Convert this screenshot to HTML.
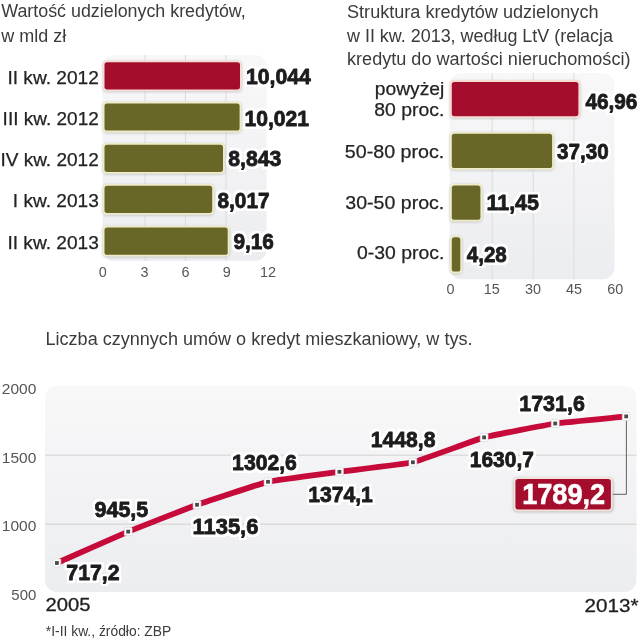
<!DOCTYPE html>
<html lang="pl">
<head>
<meta charset="utf-8">
<title>Kredyty mieszkaniowe</title>
<style>
html,body{margin:0;padding:0;background:#fff;}
body{width:639px;height:640px;overflow:hidden;font-family:"Liberation Sans",sans-serif;}
svg{display:block;will-change:transform;}
text{font-family:"Liberation Sans",sans-serif;}
.t{fill:#3b3b3b;}
.lab{fill:#232323;stroke:#232323;stroke-width:0.25px;}
.ax{fill:#555;}
.lab2{fill:#1f1f1f;stroke:#1f1f1f;stroke-width:0.3px;}
.v{font-weight:bold;fill:#1c1c1e;stroke:#1c1c1e;stroke-width:0.85px;stroke-linejoin:round;}
</style>
</head>
<body>
<svg width="639" height="640" viewBox="0 0 639 640">
<defs>
<linearGradient id="bg" x1="0" y1="0" x2="0" y2="1"><stop offset="0" stop-color="#f8f8f9"/><stop offset="1" stop-color="#ecedf0"/></linearGradient>
<filter id="halo" color-interpolation-filters="sRGB" x="-8%" y="-25%" width="116%" height="150%"><feMorphology in="SourceAlpha" operator="dilate" radius="1.5" result="d"/><feGaussianBlur in="d" stdDeviation="0.45" result="b"/><feComponentTransfer in="b" result="a"><feFuncA type="linear" slope="3" intercept="0"/></feComponentTransfer><feFlood flood-color="#fff"/><feComposite in2="a" operator="in" result="w"/><feMerge><feMergeNode in="w"/><feMergeNode in="SourceGraphic"/></feMerge></filter>
<filter id="sh" x="-10%" y="-20%" width="120%" height="140%"><feGaussianBlur stdDeviation="1.1"/></filter>
</defs>
<rect width="639" height="640" fill="#fff"/>

<!-- left bar chart -->
<text x="1.2" y="17.1" font-size="17.5" class="t" textLength="244.5" lengthAdjust="spacingAndGlyphs">Wartość udzielonych kredytów,</text>
<text x="1.2" y="41.5" font-size="17.5" class="t" textLength="65" lengthAdjust="spacingAndGlyphs">w mld zł</text>
<rect x="102.6" y="55" width="164" height="205.8" rx="11" fill="url(#bg)"/>
<rect x="144.5" y="55" width="1" height="205.8" fill="#dcdcdc"/>
<rect x="185.0" y="55" width="1" height="205.8" fill="#dcdcdc"/>
<rect x="225.5" y="55" width="1" height="205.8" fill="#dcdcdc"/>
<rect x="102.4" y="60.8" width="139.7" height="31.4" rx="4.4" fill="#9a9a9a" opacity="0.45" filter="url(#sh)"/>
<rect x="102.7" y="60.4" width="139.1" height="30.8" rx="4" fill="#f7ddd6"/>
<rect x="104.5" y="62.2" width="135.5" height="27.2" rx="2.6" fill="#a40e2c"/>
<text x="98.8" y="83.6" font-size="18.6" class="lab" textLength="91.4" lengthAdjust="spacingAndGlyphs" text-anchor="end">II kw. 2012</text>
<rect x="102.4" y="102.0" width="139.3" height="31.4" rx="4.4" fill="#9a9a9a" opacity="0.45" filter="url(#sh)"/>
<rect x="102.7" y="101.6" width="138.7" height="30.8" rx="4" fill="#efecc9"/>
<rect x="104.5" y="103.4" width="135.1" height="27.2" rx="2.6" fill="#686728"/>
<text x="98.8" y="124.8" font-size="18.6" class="lab" textLength="96.2" lengthAdjust="spacingAndGlyphs" text-anchor="end">III kw. 2012</text>
<rect x="102.4" y="143.3" width="122.7" height="31.4" rx="4.4" fill="#9a9a9a" opacity="0.45" filter="url(#sh)"/>
<rect x="102.7" y="142.9" width="122.1" height="30.8" rx="4" fill="#efecc9"/>
<rect x="104.5" y="144.7" width="118.5" height="27.2" rx="2.6" fill="#686728"/>
<text x="98.8" y="166.1" font-size="18.6" class="lab" textLength="98.4" lengthAdjust="spacingAndGlyphs" text-anchor="end">IV kw. 2012</text>
<rect x="102.4" y="184.3" width="111.9" height="31.4" rx="4.4" fill="#9a9a9a" opacity="0.45" filter="url(#sh)"/>
<rect x="102.7" y="183.9" width="111.3" height="30.8" rx="4" fill="#efecc9"/>
<rect x="104.5" y="185.7" width="107.7" height="27.2" rx="2.6" fill="#686728"/>
<text x="98.8" y="206.9" font-size="18.6" class="lab" textLength="86" lengthAdjust="spacingAndGlyphs" text-anchor="end">I kw. 2013</text>
<rect x="102.4" y="226.2" width="127.4" height="31.4" rx="4.4" fill="#9a9a9a" opacity="0.45" filter="url(#sh)"/>
<rect x="102.7" y="225.8" width="126.8" height="30.8" rx="4" fill="#efecc9"/>
<rect x="104.5" y="227.6" width="123.2" height="27.2" rx="2.6" fill="#686728"/>
<text x="98.8" y="248.8" font-size="18.6" class="lab" textLength="91.4" lengthAdjust="spacingAndGlyphs" text-anchor="end">II kw. 2013</text>
<text x="246.0" y="84.4" font-size="22.5" class="v" textLength="64.8" lengthAdjust="spacingAndGlyphs" filter="url(#halo)">10,044</text>
<text x="244.4" y="126.2" font-size="22.5" class="v" textLength="64.6" lengthAdjust="spacingAndGlyphs" filter="url(#halo)">10,021</text>
<text x="228.3" y="165.6" font-size="22.5" class="v" textLength="53.0" lengthAdjust="spacingAndGlyphs" filter="url(#halo)">8,843</text>
<text x="217.5" y="208.3" font-size="22.5" class="v" textLength="52.0" lengthAdjust="spacingAndGlyphs" filter="url(#halo)">8,017</text>
<text x="233.4" y="249.4" font-size="22.5" class="v" textLength="40.5" lengthAdjust="spacingAndGlyphs" filter="url(#halo)">9,16</text>
<text x="102.8" y="277" font-size="14.4" class="ax" text-anchor="middle">0</text>
<text x="144.4" y="277" font-size="14.4" class="ax" text-anchor="middle">3</text>
<text x="185.6" y="277" font-size="14.4" class="ax" text-anchor="middle">6</text>
<text x="226.8" y="277" font-size="14.4" class="ax" text-anchor="middle">9</text>
<text x="268" y="277" font-size="14.4" class="ax" text-anchor="middle">12</text>
<!-- right bar chart -->
<text x="347" y="18" font-size="17.5" class="t" textLength="251.5" lengthAdjust="spacingAndGlyphs">Struktura kredytów udzielonych</text>
<text x="347" y="41.6" font-size="17.5" class="t" textLength="266" lengthAdjust="spacingAndGlyphs">w II kw. 2013, według LtV (relacja</text>
<text x="347" y="65" font-size="17.5" class="t" textLength="283.5" lengthAdjust="spacingAndGlyphs">kredytu do wartości nieruchomości)</text>
<rect x="449.6" y="73" width="164.9" height="206.3" rx="12" fill="url(#bg)"/>
<rect x="491.7" y="73" width="1" height="206.3" fill="#dcdcdc"/>
<rect x="532.7" y="73" width="1" height="206.3" fill="#dcdcdc"/>
<rect x="573.4" y="73" width="1" height="206.3" fill="#dcdcdc"/>
<rect x="449.7" y="80.5" width="130.8" height="38.5" rx="4.4" fill="#9a9a9a" opacity="0.45" filter="url(#sh)"/>
<rect x="450.0" y="80.1" width="130.2" height="37.9" rx="4" fill="#f7ddd6"/>
<rect x="451.8" y="81.9" width="126.6" height="34.3" rx="2.6" fill="#a40e2c"/>
<rect x="449.7" y="132.3" width="104.5" height="38.5" rx="4.4" fill="#9a9a9a" opacity="0.45" filter="url(#sh)"/>
<rect x="450.0" y="131.9" width="103.9" height="37.9" rx="4" fill="#efecc9"/>
<rect x="451.8" y="133.7" width="100.3" height="34.3" rx="2.6" fill="#686728"/>
<rect x="449.7" y="184.1" width="32.8" height="38.5" rx="4.4" fill="#9a9a9a" opacity="0.45" filter="url(#sh)"/>
<rect x="450.0" y="183.7" width="32.2" height="37.9" rx="4" fill="#efecc9"/>
<rect x="451.8" y="185.5" width="28.6" height="34.3" rx="2.6" fill="#686728"/>
<rect x="449.7" y="235.9" width="12.7" height="38.5" rx="4.4" fill="#9a9a9a" opacity="0.45" filter="url(#sh)"/>
<rect x="450.0" y="235.5" width="12.1" height="37.9" rx="4" fill="#efecc9"/>
<rect x="451.8" y="237.3" width="8.5" height="34.3" rx="2.6" fill="#686728"/>
<text x="444.3" y="94.7" font-size="18.5" class="lab" textLength="69.5" lengthAdjust="spacingAndGlyphs" text-anchor="end">powyżej</text>
<text x="444.3" y="116.3" font-size="18.5" class="lab" textLength="70" lengthAdjust="spacingAndGlyphs" text-anchor="end">80 proc.</text>
<text x="444.3" y="158.2" font-size="18.5" class="lab" textLength="99.5" lengthAdjust="spacingAndGlyphs" text-anchor="end">50-80 proc.</text>
<text x="444.3" y="208.5" font-size="18.5" class="lab" textLength="99" lengthAdjust="spacingAndGlyphs" text-anchor="end">30-50 proc.</text>
<text x="444.3" y="258.9" font-size="18.5" class="lab" textLength="87.2" lengthAdjust="spacingAndGlyphs" text-anchor="end">0-30 proc.</text>
<text x="585.4" y="109.3" font-size="22.5" class="v" textLength="52" lengthAdjust="spacingAndGlyphs" filter="url(#halo)">46,96</text>
<text x="557.1" y="159.1" font-size="22.5" class="v" textLength="51.6" lengthAdjust="spacingAndGlyphs" filter="url(#halo)">37,30</text>
<text x="486.5" y="210.3" font-size="22.5" class="v" textLength="52.4" lengthAdjust="spacingAndGlyphs" filter="url(#halo)">11,45</text>
<text x="466.8" y="261.6" font-size="22.5" class="v" textLength="40" lengthAdjust="spacingAndGlyphs" filter="url(#halo)">4,28</text>
<text x="450.6" y="294.3" font-size="14.4" class="ax" text-anchor="middle">0</text>
<text x="491.8" y="294.3" font-size="14.4" class="ax" text-anchor="middle">15</text>
<text x="533" y="294.3" font-size="14.4" class="ax" text-anchor="middle">30</text>
<text x="574" y="294.3" font-size="14.4" class="ax" text-anchor="middle">45</text>
<text x="615.2" y="294.3" font-size="14.4" class="ax" text-anchor="middle">60</text>
<!-- line chart -->
<text x="45.5" y="345" font-size="17.5" class="t" textLength="427" lengthAdjust="spacingAndGlyphs">Liczba czynnych umów o kredyt mieszkaniowy, w tys.</text>
<rect x="45" y="385.7" width="591.5" height="206.4" rx="12" fill="url(#bg)"/>
<rect x="45" y="454.7" width="591.5" height="1" fill="#d2d2d2"/>
<rect x="45" y="523.7" width="591.5" height="1" fill="#d2d2d2"/>
<text x="36.3" y="393.8" font-size="14.6" class="ax" textLength="34.5" lengthAdjust="spacingAndGlyphs" text-anchor="end">2000</text>
<text x="36.3" y="463" font-size="14.6" class="ax" textLength="34.5" lengthAdjust="spacingAndGlyphs" text-anchor="end">1500</text>
<text x="36.3" y="531" font-size="14.6" class="ax" textLength="34.5" lengthAdjust="spacingAndGlyphs" text-anchor="end">1000</text>
<text x="36.3" y="599.6" font-size="14.6" class="ax" textLength="25" lengthAdjust="spacingAndGlyphs" text-anchor="end">500</text>
<path d="M56.9 563.0 C60.5 561.4 121.2 534.5 128.2 531.6 C135.2 528.7 190.0 507.3 197.0 504.8 C204.0 502.3 260.9 483.4 268.0 481.8 C275.1 480.2 332.2 472.8 339.4 471.8 C346.6 470.8 405.7 464.0 412.9 462.3 C420.1 460.6 477.0 439.3 484.1 437.4 C491.2 435.5 548.1 424.6 555.2 423.5 C562.3 422.4 622.7 416.8 626.2 416.4" fill="none" stroke="#c60b3b" stroke-width="5.8" stroke-linecap="round" stroke-linejoin="round"/>
<path d="M626.4 416.4 V494.3 H611" fill="none" stroke="#505050" stroke-width="0.9"/>
<rect x="53.0" y="559.0" width="7.8" height="8" rx="0.8" fill="#fff" stroke="#d8d8d8" stroke-width="0.7"/>
<rect x="55.0" y="561.1" width="3.8" height="3.8" fill="#474b4a"/>
<rect x="124.3" y="527.6" width="7.8" height="8" rx="0.8" fill="#fff" stroke="#d8d8d8" stroke-width="0.7"/>
<rect x="126.3" y="529.7" width="3.8" height="3.8" fill="#474b4a"/>
<rect x="193.1" y="500.8" width="7.8" height="8" rx="0.8" fill="#fff" stroke="#d8d8d8" stroke-width="0.7"/>
<rect x="195.1" y="502.9" width="3.8" height="3.8" fill="#474b4a"/>
<rect x="264.1" y="477.8" width="7.8" height="8" rx="0.8" fill="#fff" stroke="#d8d8d8" stroke-width="0.7"/>
<rect x="266.1" y="479.9" width="3.8" height="3.8" fill="#474b4a"/>
<rect x="335.5" y="467.8" width="7.8" height="8" rx="0.8" fill="#fff" stroke="#d8d8d8" stroke-width="0.7"/>
<rect x="337.5" y="469.9" width="3.8" height="3.8" fill="#474b4a"/>
<rect x="409.0" y="458.3" width="7.8" height="8" rx="0.8" fill="#fff" stroke="#d8d8d8" stroke-width="0.7"/>
<rect x="411.0" y="460.4" width="3.8" height="3.8" fill="#474b4a"/>
<rect x="480.2" y="433.4" width="7.8" height="8" rx="0.8" fill="#fff" stroke="#d8d8d8" stroke-width="0.7"/>
<rect x="482.2" y="435.5" width="3.8" height="3.8" fill="#474b4a"/>
<rect x="551.3" y="419.5" width="7.8" height="8" rx="0.8" fill="#fff" stroke="#d8d8d8" stroke-width="0.7"/>
<rect x="553.3" y="421.6" width="3.8" height="3.8" fill="#474b4a"/>
<rect x="622.3" y="412.4" width="7.8" height="8" rx="0.8" fill="#fff" stroke="#d8d8d8" stroke-width="0.7"/>
<rect x="624.3" y="414.5" width="3.8" height="3.8" fill="#474b4a"/>
<text x="66.3" y="579.8" font-size="22.8" class="v" textLength="53.3" lengthAdjust="spacingAndGlyphs" filter="url(#halo)">717,2</text>
<text x="94.5" y="517.1" font-size="22.8" class="v" textLength="53.8" lengthAdjust="spacingAndGlyphs" filter="url(#halo)">945,5</text>
<text x="192.6" y="533.7" font-size="22.8" class="v" textLength="65.8" lengthAdjust="spacingAndGlyphs" filter="url(#halo)">1135,6</text>
<text x="232.1" y="470.2" font-size="22.8" class="v" textLength="64.8" lengthAdjust="spacingAndGlyphs" filter="url(#halo)">1302,6</text>
<text x="308.2" y="501.9" font-size="22.8" class="v" textLength="64.6" lengthAdjust="spacingAndGlyphs" filter="url(#halo)">1374,1</text>
<text x="370.8" y="446.5" font-size="22.8" class="v" textLength="64.6" lengthAdjust="spacingAndGlyphs" filter="url(#halo)">1448,8</text>
<text x="469.8" y="467.2" font-size="22.8" class="v" textLength="64.1" lengthAdjust="spacingAndGlyphs" filter="url(#halo)">1630,7</text>
<text x="519.3" y="411.1" font-size="22.8" class="v" textLength="65.5" lengthAdjust="spacingAndGlyphs" filter="url(#halo)">1731,6</text>
<rect x="512.8" y="477.4" width="101" height="35.2" rx="5" fill="#9a9a9a" opacity="0.5" filter="url(#sh)"/>
<rect x="513.7" y="477.3" width="98.9" height="33.9" rx="4.2" fill="#f6e3dc"/>
<rect x="515.4" y="479.0" width="95.5" height="30.5" rx="2.8" fill="#a40e2c"/>
<text x="522.2" y="503.6" font-size="29.4" font-weight="bold" fill="#fff" stroke="#fff" stroke-width="0.6" textLength="83" lengthAdjust="spacingAndGlyphs">1789,2</text>
<text x="45.6" y="611.2" font-size="18.2" class="lab2" textLength="45" lengthAdjust="spacingAndGlyphs">2005</text>
<text x="584.5" y="611.6" font-size="18.2" class="lab2" textLength="54" lengthAdjust="spacingAndGlyphs">2013*</text>
<text x="45.8" y="635.7" font-size="15.2" class="t" textLength="125.5" lengthAdjust="spacingAndGlyphs">*I-II kw., źródło: ZBP</text>
</svg>
</body>
</html>
